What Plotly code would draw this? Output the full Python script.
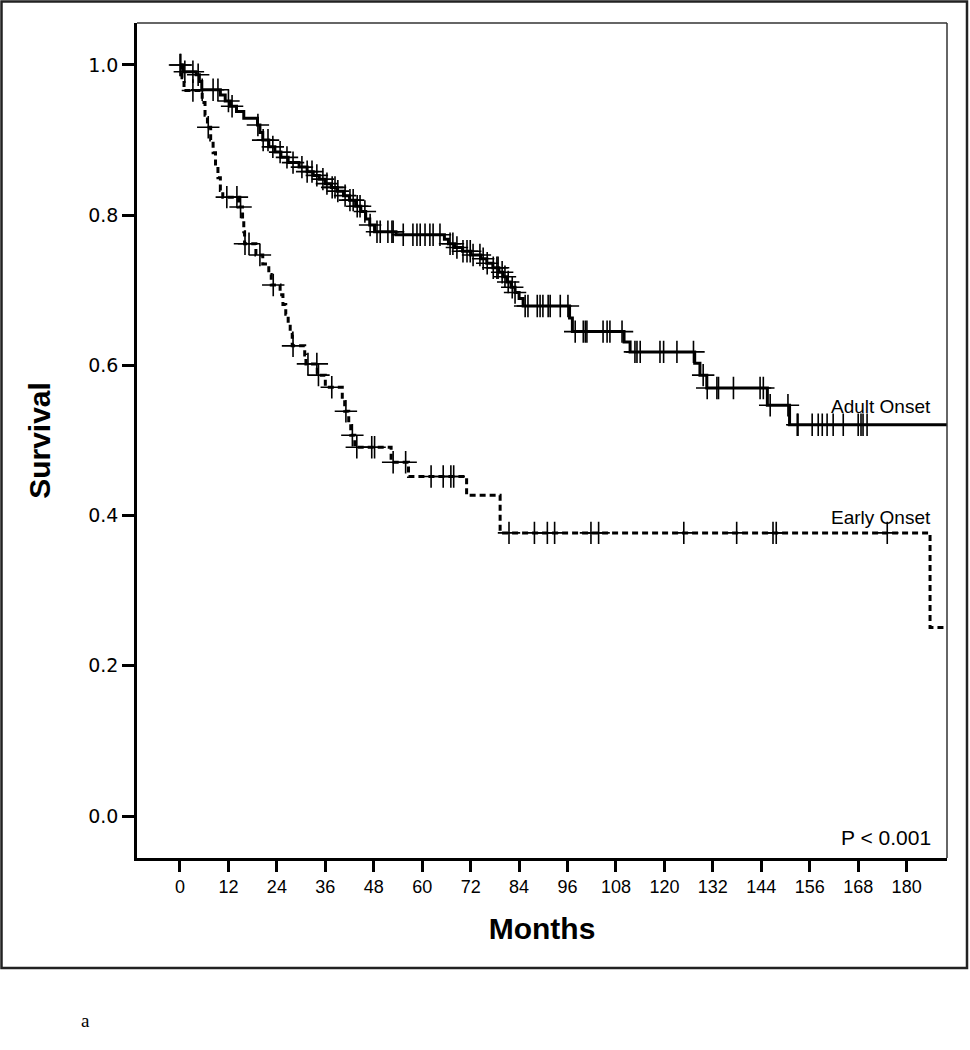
import numpy as np
import plotly.graph_objects as go

# ---------------- data ----------------
adult_event_months = [0.7, 4.0, 4.8, 5.4, 10.0, 11.2, 12.5, 14.0, 15.8, 19.2, 19.8, 20.5,
                      22.0, 23.5, 25.0, 26.8, 29.5, 31.5, 33.0, 34.5, 36.0, 37.5, 39.0,
                      40.5, 42.0, 43.5, 44.8, 46.0, 47.0, 48.2, 53.5, 65.5, 66.5, 68.0,
                      70.0, 72.0, 74.5, 76.0, 77.5, 79.0, 80.0, 81.0, 82.0, 83.0, 84.0,
                      85.0, 96.5, 97.2, 110.0, 111.5, 127.5, 128.8, 130.5, 145.5, 151.0]
adult_survival = [0.991, 0.987, 0.978, 0.967, 0.960, 0.952, 0.945, 0.938, 0.929, 0.920,
                  0.910, 0.900, 0.891, 0.884, 0.877, 0.870, 0.864, 0.858, 0.853, 0.848,
                  0.842, 0.837, 0.832, 0.826, 0.820, 0.812, 0.805, 0.795, 0.787, 0.778,
                  0.774, 0.768, 0.762, 0.757, 0.752, 0.747, 0.742, 0.736, 0.730, 0.724,
                  0.718, 0.711, 0.704, 0.697, 0.689, 0.679, 0.663, 0.645, 0.631, 0.618,
                  0.603, 0.587, 0.570, 0.547, 0.521]
adult_censor_months = [0, 1.2, 3.2, 4.5, 5.5, 8.2, 9.4, 12.0, 12.9, 19.3, 20.6, 21.8, 23.0,
                       24.8, 26.5, 28.0, 30.2, 31.5, 32.7, 33.9, 35.4, 36.4, 37.7, 38.4,
                       39.1, 40.9, 42.1, 42.9, 43.9, 44.6, 45.8, 47.1, 48.8, 49.6, 51.5,
                       52.5, 52.8, 55.3, 57.7, 58.7, 59.5, 60.7, 61.9, 62.7, 64.4, 66.9,
                       67.6, 68.6, 70.1, 71.1, 71.9, 72.6, 74.3, 75.1, 76.1, 77.6, 78.5,
                       78.8, 79.8, 80.5, 81.3, 82.3, 83.0, 85.5, 86.2, 88.5, 89.2, 89.9,
                       91.2, 91.7, 94.2, 96.1, 97.9, 99.9, 100.4, 100.8, 104.8, 105.8,
                       106.5, 109.5, 112.7, 113.2, 114.0, 118.9, 119.8, 123.1, 127.2,
                       129.6, 130.6, 133.0, 133.4, 137.1, 143.7, 144.5, 146.2, 150.6,
                       152.9, 153.1, 156.6, 158.1, 159.1, 160.3, 161.8, 164.3, 168.0,
                       168.7, 169.2, 170.2]

early_event_months = [0.5, 1.0, 5.5, 6.2, 6.8, 7.6, 8.2, 8.8, 9.4, 10.0, 10.6, 14.5, 15.5,
                      15.8, 16.0, 18.8, 20.5, 22.0, 22.6, 24.8, 25.5, 26.2, 26.8, 27.3,
                      27.8, 30.9, 31.2, 34.0, 36.0, 40.2, 40.8, 41.8, 42.3, 43.3, 52.3,
                      56.6, 71.0, 79.3, 185.8]
early_survival = [0.983, 0.966, 0.950, 0.933, 0.917, 0.900, 0.883, 0.866, 0.850, 0.833,
                  0.824, 0.811, 0.795, 0.778, 0.762, 0.747, 0.735, 0.721, 0.707, 0.694,
                  0.681, 0.668, 0.655, 0.643, 0.626, 0.614, 0.602, 0.587, 0.571, 0.555,
                  0.539, 0.523, 0.507, 0.491, 0.471, 0.452, 0.427, 0.377, 0.251]
early_censor_months = [0.2, 3.2, 7.0, 11.6, 14.1, 15.0, 16.1, 17.1, 19.8, 23.1, 28.0, 31.7,
                       33.9, 34.3, 37.6, 41.1, 42.7, 43.8, 47.5, 48.2, 52.8, 55.9, 62.2,
                       65.2, 67.1, 67.8, 81.5, 87.8, 91.0, 92.8, 101.8, 103.7, 124.8,
                       137.9, 146.9, 147.7, 175.2]

x_ticks = list(range(0, 181, 12))
y_ticks = [0.0, 0.2, 0.4, 0.6, 0.8, 1.0]
x_max = 190.0


def km_line(events, surv):
    xs = [0.0] + list(events) + [x_max]
    ys = [1.0] + list(surv) + [surv[-1]]
    return xs, ys


def at(events, surv, t):
    ev = np.asarray(events)
    sv = np.concatenate([[1.0], np.asarray(surv)])
    return sv[np.searchsorted(ev, np.asarray(t), side="right")]


fig = go.Figure()

ax, ay = km_line(adult_event_months, adult_survival)
ex, ey = km_line(early_event_months, early_survival)

fig.add_trace(go.Scatter(x=ax, y=ay, mode="lines", line_shape="hv",
                         line=dict(color="black", width=3), showlegend=False))
fig.add_trace(go.Scatter(x=ex, y=ey, mode="lines", line_shape="hv",
                         line=dict(color="black", width=3, dash="6px,4px"), showlegend=False))

fig.add_trace(go.Scatter(x=adult_censor_months,
                         y=at(adult_event_months, adult_survival, adult_censor_months),
                         mode="markers",
                         marker=dict(symbol="cross-thin", size=16,
                                     line=dict(color="black", width=1.6)),
                         showlegend=False))
fig.add_trace(go.Scatter(x=early_censor_months,
                         y=at(early_event_months, early_survival, early_censor_months),
                         mode="markers",
                         marker=dict(symbol="cross-thin", size=16,
                                     line=dict(color="black", width=1.6)),
                         showlegend=False))

txt_font = dict(family="Liberation Sans, Arial, sans-serif", size=19, color="black")
fig.add_annotation(x=186.5, y=0.545, text="Adult Onset", showarrow=False,
                   xanchor="right", yanchor="middle", font=txt_font)
fig.add_annotation(x=186.5, y=0.398, text="Early Onset", showarrow=False,
                   xanchor="right", yanchor="middle", font=txt_font)
fig.add_annotation(x=186.5, y=-0.028, text="P < 0.001", showarrow=False,
                   xanchor="right", yanchor="middle",
                   font=dict(family="Liberation Sans, Arial, sans-serif", size=21, color="black"))

# plot area in pixels: x 137..947, y 23..858
L, R, T, B = 137, 947, 23, 858
W, H = 970, 1050
pw, ph = R - L, B - T


def px(xp):
    return (xp - L) / pw


def py(yp):
    return (B - yp) / ph


# outer frame
fig.add_shape(type="rect", xref="paper", yref="paper",
              x0=px(1.5), x1=px(967), y0=py(968), y1=py(1.5),
              line=dict(color="#222222", width=2.5), layer="below")
# top and right thin frame lines of plot area
fig.add_shape(type="line", xref="paper", yref="paper", x0=0, x1=1, y0=1, y1=1,
              line=dict(color="#333333", width=1.5))
fig.add_shape(type="line", xref="paper", yref="paper", x0=1, x1=1, y0=0, y1=1,
              line=dict(color="#333333", width=1.5))

fig.add_annotation(xref="paper", yref="paper", x=px(85), y=py(1020), text="a",
                   showarrow=False, xanchor="center", yanchor="middle",
                   font=dict(family="Liberation Serif, Times New Roman, serif", size=19,
                             color="black"))

fig.update_layout(
    width=W, height=H, autosize=False,
    margin=dict(l=L, r=W - R, t=T, b=H - B),
    paper_bgcolor="white", plot_bgcolor="white",
    font=dict(family="Liberation Sans, Arial, sans-serif", color="black"),
)
fig.update_xaxes(range=[-10.65, x_max], tickvals=x_ticks, ticktext=[str(v) for v in x_ticks],
                 showgrid=False, zeroline=False, showline=True, linecolor="black",
                 linewidth=2.5, ticks="outside", ticklen=11, tickwidth=2.5,
                 tickcolor="black", tickfont=dict(size=18),
                 title=dict(text="<b>Months</b>", font=dict(size=30), standoff=22))
fig.update_yaxes(range=[-0.0559, 1.0559], tickvals=y_ticks,
                 ticktext=[f"{v:.1f}" for v in y_ticks],
                 showgrid=False, zeroline=False, showline=True, linecolor="black",
                 linewidth=2.5, ticks="outside", ticklen=12, tickwidth=2.5,
                 tickcolor="black",
                 tickfont=dict(family="DejaVu Sans, sans-serif", size=19),
                 title=dict(text="<b>Survival</b>", font=dict(size=30), standoff=29))

fig.write_html("out.html", config={"displayModeBar": False},
               post_script="document.body.style.margin='0';document.body.style.padding='0';")
